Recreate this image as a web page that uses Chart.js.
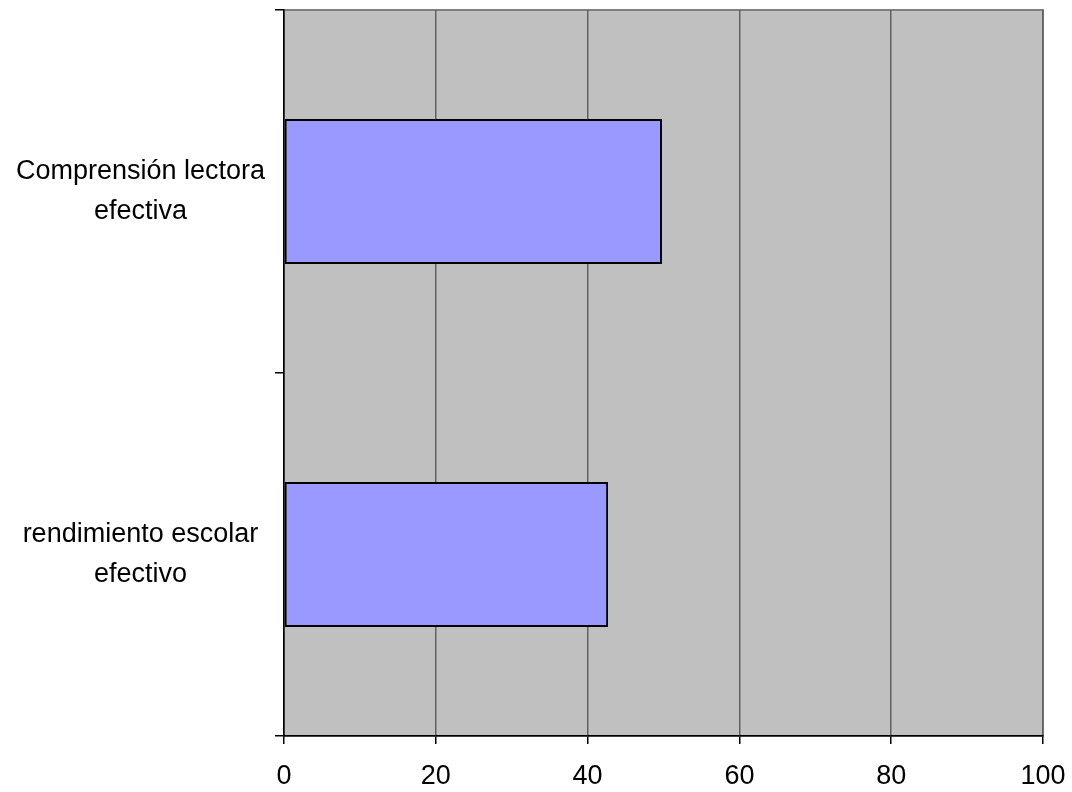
<!DOCTYPE html>
<html>
<head>
<meta charset="utf-8">
<script src="https://cdn.jsdelivr.net/npm/chart.js@4.4.1/dist/chart.umd.min.js"></script>
<style>
  html, body { margin: 0; padding: 0; background: #ffffff; }
  #wrap { width: 1072px; height: 792px; position: relative; }
</style>
</head>
<body>
<div id="wrap"><canvas id="chart" width="1072" height="792"></canvas></div>
<script>
// Categories (top to bottom) and their values
const categories = [
  ['Comprensión lectora', 'efectiva'],
  ['rendimiento escolar', 'efectivo']
];
const values = [49.8, 42.7];
const xTicks = [0, 20, 40, 60, 80, 100];

// Grey plot-area background with a thin frame
const plotBackground = {
  id: 'plotBackground',
  beforeDraw(chart) {
    const { ctx, chartArea: a } = chart;
    ctx.save();
    ctx.fillStyle = '#C0C0C0';
    ctx.fillRect(a.left, a.top, a.right - a.left, a.bottom - a.top);
    ctx.strokeStyle = '#808080';
    ctx.lineWidth = 2;
    ctx.strokeRect(a.left, a.top, a.right - a.left, a.bottom - a.top);
    ctx.restore();
  }
};

const fontFamily = '"Liberation Sans", Arial, sans-serif';

new Chart(document.getElementById('chart'), {
  type: 'bar',
  data: {
    labels: categories,
    datasets: [{
      data: values,
      backgroundColor: '#9999FF',
      borderColor: '#000000',
      borderWidth: 2,
      borderSkipped: false,
      categoryPercentage: 1,
      barPercentage: 0.4
    }]
  },
  options: {
    indexAxis: 'y',
    responsive: false,
    animation: false,
    layout: { padding: { top: 10, right: 29, left: 0, bottom: 0 } },
    plugins: { legend: { display: false }, tooltip: { enabled: false } },
    scales: {
      x: {
        min: 0,
        max: 100,
        afterBuildTicks(scale) { scale.ticks = xTicks.map(v => ({ value: v })); },
        afterFit(scale) {
          scale.height = 56;
          scale.paddingLeft = 0;
          scale.paddingRight = 0;
        },
        grid: { color: '#606060', lineWidth: 1.5, tickLength: 8, tickColor: '#000000' },
        border: { color: '#000000', width: 1.5 },
        ticks: {
          color: '#000000',
          padding: 16,
          font: { family: fontFamily, size: 27 },
          maxRotation: 0
        }
      },
      y: {
        afterFit(scale) {
          scale.width = 284;
          scale.paddingTop = 0;
          scale.paddingBottom = 0;
        },
        grid: { drawOnChartArea: false, offset: true, tickLength: 9, color: '#000000', lineWidth: 1.5 },
        border: { color: '#000000', width: 1.5 },
        ticks: {
          color: '#000000',
          padding: 10,
          font: { family: fontFamily, size: 27, lineHeight: 1.45 },
          align: 'center',
          crossAlign: 'center'
        }
      }
    }
  },
  plugins: [plotBackground]
});
</script>
</body>
</html>
